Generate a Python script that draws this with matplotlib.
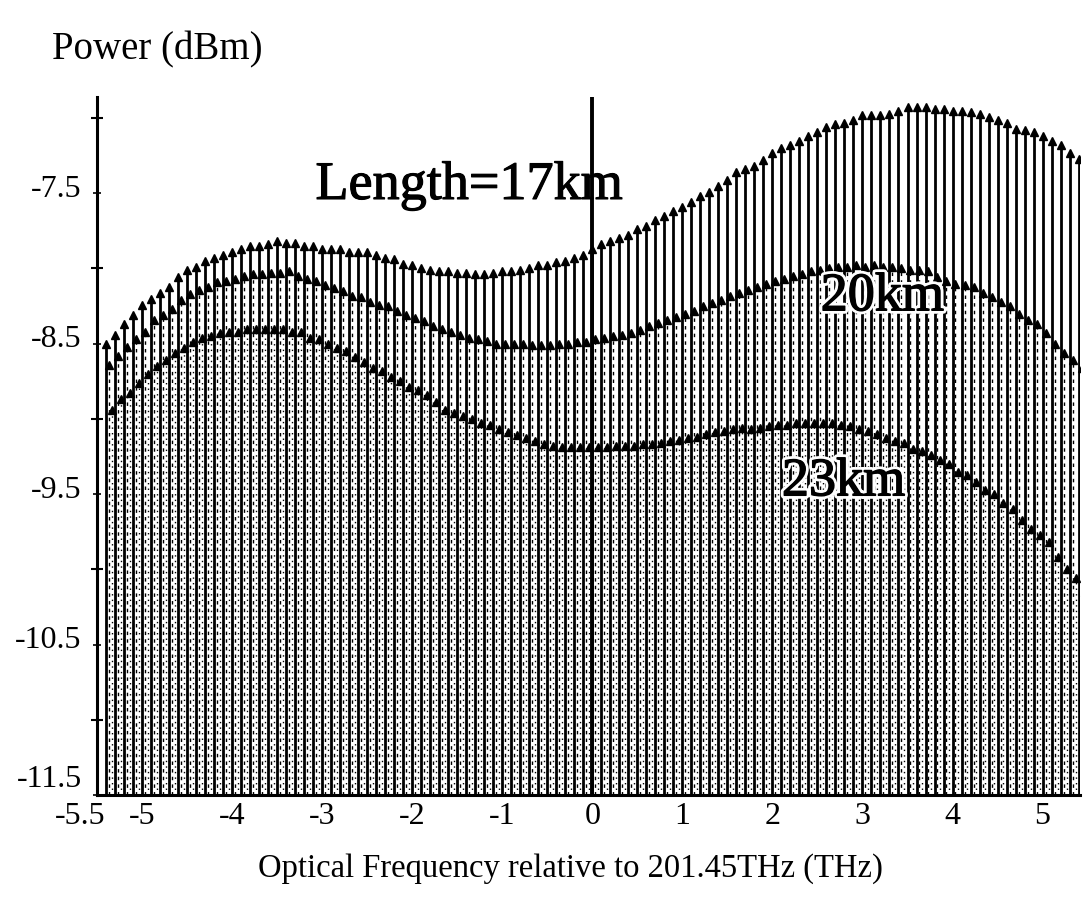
import numpy as np
import matplotlib
matplotlib.use("Agg")
import matplotlib.pyplot as plt
import matplotlib.patheffects as pe
from matplotlib.transforms import ScaledTranslation

# Optical frequency offsets (THz), 0.1 THz grid from -5.4 to 5.4
freq = np.round(np.arange(-5.4, 5.41, 0.1), 2)

p_17km = [-8.50, -8.44, -8.37, -8.31, -8.24, -8.20, -8.16, -8.12, -8.06, -8.01,
          -7.99, -7.95, -7.93, -7.91, -7.89, -7.87, -7.85, -7.85, -7.84, -7.82,
          -7.83, -7.83, -7.85, -7.85, -7.87, -7.87, -7.87, -7.89, -7.89, -7.89,
          -7.91, -7.93, -7.94, -7.97, -7.98, -8.00, -8.01, -8.02, -8.02, -8.03,
          -8.03, -8.04, -8.04, -8.03, -8.02, -8.02, -8.01, -8.00, -7.98, -7.98,
          -7.96, -7.95, -7.93, -7.91, -7.87, -7.84, -7.82, -7.80, -7.78, -7.74,
          -7.72, -7.68, -7.65, -7.62, -7.59, -7.56, -7.52, -7.49, -7.45, -7.41,
          -7.36, -7.34, -7.32, -7.28, -7.23, -7.20, -7.18, -7.15, -7.12, -7.09,
          -7.06, -7.04, -7.03, -7.01, -6.98, -6.98, -6.98, -6.97, -6.95, -6.93,
          -6.93, -6.93, -6.94, -6.94, -6.95, -6.95, -6.96, -6.97, -6.99, -7.01,
          -7.03, -7.07, -7.08, -7.09, -7.12, -7.15, -7.18, -7.23, -7.27]

p_20km = [-8.64, -8.58, -8.52, -8.47, -8.42, -8.34, -8.31, -8.27, -8.21, -8.17,
          -8.14, -8.12, -8.09, -8.08, -8.07, -8.05, -8.04, -8.04, -8.03, -8.03,
          -8.02, -8.05, -8.07, -8.08, -8.11, -8.13, -8.15, -8.18, -8.19, -8.22,
          -8.24, -8.25, -8.28, -8.31, -8.33, -8.35, -8.38, -8.40, -8.42, -8.44,
          -8.46, -8.47, -8.48, -8.50, -8.50, -8.50, -8.50, -8.51, -8.51, -8.51,
          -8.50, -8.50, -8.49, -8.49, -8.47, -8.46, -8.45, -8.44, -8.43, -8.41,
          -8.38, -8.36, -8.34, -8.32, -8.30, -8.28, -8.25, -8.23, -8.21, -8.18,
          -8.16, -8.14, -8.12, -8.10, -8.08, -8.07, -8.05, -8.04, -8.02, -8.01,
          -8.00, -7.99, -7.99, -7.98, -7.99, -7.98, -7.99, -7.99, -8.00, -8.01,
          -8.01, -8.02, -8.06, -8.08, -8.10, -8.11, -8.12, -8.16, -8.19, -8.22,
          -8.25, -8.30, -8.34, -8.37, -8.43, -8.50, -8.56, -8.61, -8.66]

p_23km = [-8.94, -8.87, -8.83, -8.76, -8.70, -8.65, -8.61, -8.56, -8.53, -8.49,
          -8.46, -8.45, -8.43, -8.42, -8.42, -8.40, -8.40, -8.40, -8.40, -8.40,
          -8.42, -8.42, -8.46, -8.47, -8.50, -8.53, -8.55, -8.59, -8.62, -8.66,
          -8.68, -8.72, -8.75, -8.79, -8.81, -8.84, -8.89, -8.94, -8.96, -8.98,
          -9.00, -9.03, -9.04, -9.07, -9.09, -9.11, -9.13, -9.15, -9.17, -9.18,
          -9.19, -9.19, -9.19, -9.19, -9.19, -9.19, -9.18, -9.18, -9.18, -9.17,
          -9.17, -9.16, -9.15, -9.14, -9.13, -9.12, -9.10, -9.09, -9.08, -9.07,
          -9.06, -9.07, -9.06, -9.05, -9.04, -9.04, -9.03, -9.03, -9.03, -9.03,
          -9.03, -9.04, -9.05, -9.07, -9.08, -9.10, -9.13, -9.15, -9.16, -9.20,
          -9.21, -9.24, -9.27, -9.30, -9.35, -9.37, -9.42, -9.47, -9.50, -9.56,
          -9.60, -9.67, -9.73, -9.77, -9.82, -9.92, -10.00, -10.06, -10.15]

labels = ["Length=17km", "20km", "23km"]
xticks = [-5.5, -5, -4, -3, -2, -1, 0, 1, 2, 3, 4, 5]
xtick_labels = ["-5.5", "-5", "-4", "-3", "-2", "-1", "0", "1", "2", "3", "4", "5"]
yticks = [-7.5, -8.5, -9.5, -10.5, -11.5]
ytick_labels = ["-7.5", "-8.5", "-9.5", "-10.5", "-11.5"]

SERIF = ["Liberation Serif", "DejaVu Serif"]
plt.rcParams["font.family"] = SERIF

fig = plt.figure(figsize=(10.83, 8.97), dpi=100)
ax = fig.add_axes([0.0896, 0.1137, 0.908, 0.7782])

ymin, ymax = -11.5, -6.86
ax.set_xlim(-5.5, 5.42)
ax.set_ylim(ymin, ymax)

styles = [
    dict(off=0.0, ls="-", lw=2.0),
    dict(off=0.033, ls=(0, (2.5, 3)), lw=1.0),
    dict(off=0.066, ls=(0, (1, 3)), lw=1.0),
]
for vals, st in zip([p_17km, p_20km, p_23km], styles):
    x = freq + st["off"]
    ax.vlines(x, ymin, vals, colors="black", linestyles=st["ls"], linewidth=st["lw"])
    ax.plot(x, vals, linestyle="none", marker="^", markersize=6, color="black")

ax.axvline(0, color="black", linewidth=2.8)

ax.set_xticks(xticks)
ax.set_xticklabels(xtick_labels, fontsize=23)
ax.set_yticks(yticks)
ax.set_yticklabels(ytick_labels, fontsize=23)
ax.set_yticks([-7, -8, -9, -10, -11], minor=True)
ax.tick_params(axis="y", which="major", direction="inout", length=6, width=1.2, pad=8)
ax.tick_params(axis="y", which="minor", direction="inout", length=8, width=1.5)
ax.tick_params(axis="x", which="major", direction="in", length=0, pad=5)

ylabs = ax.get_yticklabels()
for i, lab in enumerate(ylabs):
    lab.set_verticalalignment("center")
    shift = 0.16 if i == len(ylabs) - 1 else 0.04
    lab.set_transform(lab.get_transform() + ScaledTranslation(0, shift, fig.dpi_scale_trans))
xl = ax.get_xticklabels()
xl[0].set_transform(xl[0].get_transform() + ScaledTranslation(-0.17, 0, fig.dpi_scale_trans))

for s in ["top", "right"]:
    ax.spines[s].set_visible(False)
ax.spines["left"].set_linewidth(2.2)
ax.spines["bottom"].set_linewidth(2.2)

heavy = [pe.Stroke(linewidth=5, foreground="white"),
         pe.Stroke(linewidth=1.0, foreground="black"), pe.Normal()]
ax.text(-1.37, -7.45, labels[0], fontsize=39, ha="center", va="center", zorder=5,
        path_effects=[pe.Stroke(linewidth=0.8, foreground="black"), pe.Normal()])
ax.text(3.22, -8.19, labels[1], fontsize=39, ha="center", va="center", zorder=5,
        path_effects=heavy)
ax.text(2.79, -9.42, labels[2], fontsize=39, ha="center", va="center", zorder=5,
        path_effects=heavy)

fig.text(0.145, 0.944, "Power (dBm)", fontsize=28, ha="center", va="center")
fig.text(0.527, 0.032, "Optical Frequency relative to 201.45THz (THz)",
         fontsize=23.5, ha="center", va="center")

fig.savefig("out.png", dpi=100, facecolor="white")
